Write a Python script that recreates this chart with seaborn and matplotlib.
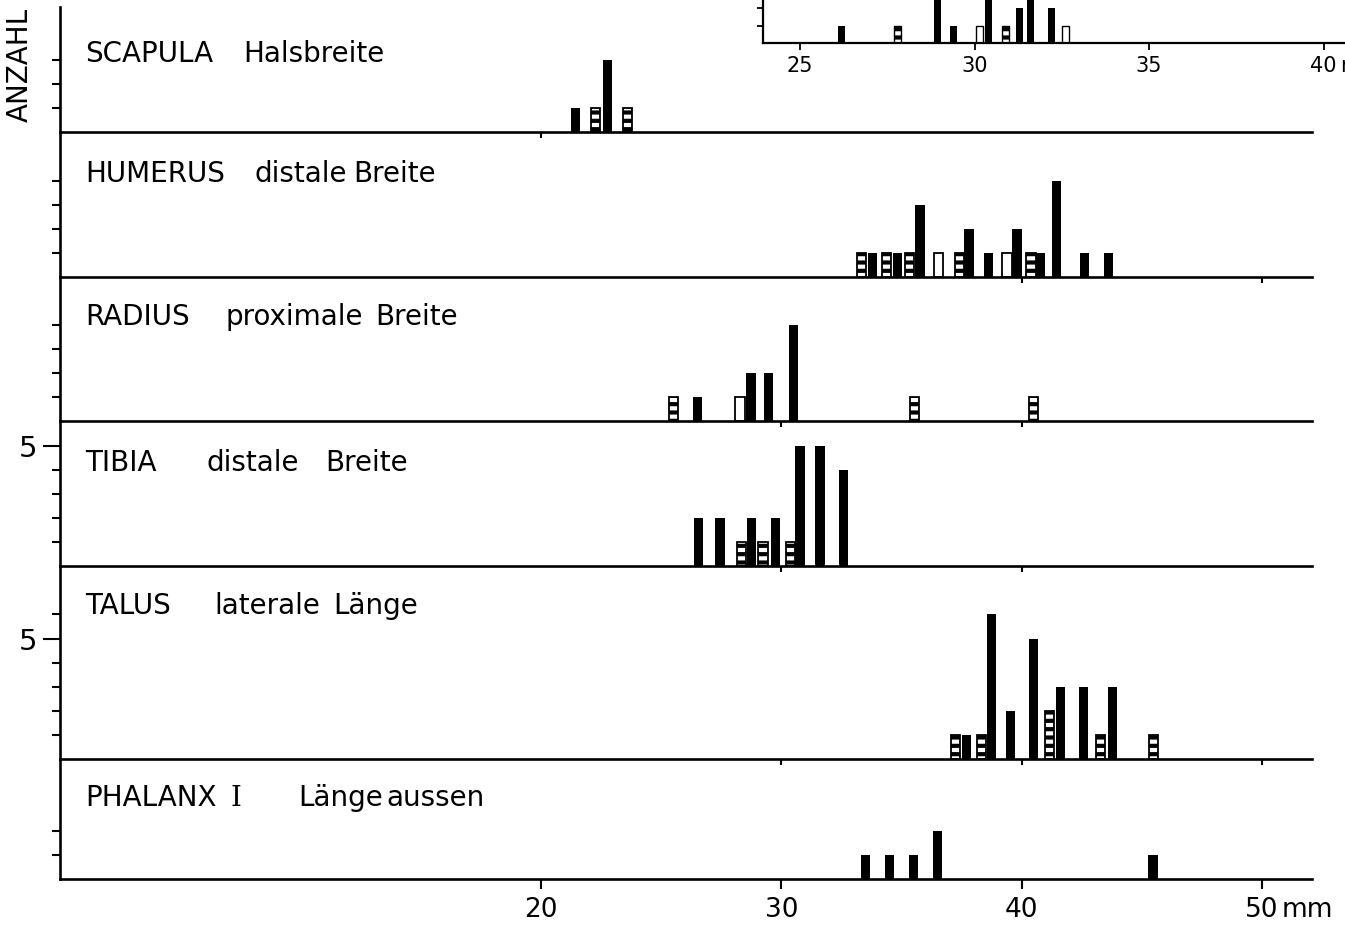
"""
Histogramme der Knochenmasse (Anzahl je mm) fuer sechs Skelettelemente,
mit kleinem Einsatzdiagramm oben rechts. Speichert out.png.
"""

import matplotlib

matplotlib.use("Agg")
import matplotlib.pyplot as plt
import seaborn as sns

# --- data -----------------------------------------------------------------
# bar kinds: S = voll schwarz, G = gestreift, O = offen
scapula_mm = [21.45, 22.25, 22.75, 23.6]
scapula_n = [1, 1, 3, 1]
scapula_kind = ["S", "G", "S", "G"]

humerus_mm = [33.32, 33.81, 34.36, 34.82, 35.35, 35.77, 36.55, 37.4, 37.81,
              38.64, 39.39, 39.81, 40.39, 40.77, 41.47, 42.6, 43.6]
humerus_n = [1, 1, 1, 1, 1, 3, 1, 1, 2, 1, 1, 2, 1, 1, 4, 1, 1]
humerus_kind = ["G", "S", "G", "S", "G", "S", "O", "G", "S",
                "S", "O", "S", "G", "S", "S", "S", "S"]

radius_mm = [25.53, 26.53, 28.28, 28.74, 29.47, 30.49, 35.56, 40.51]
radius_n = [1, 1, 1, 2, 2, 4, 1, 1]
radius_kind = ["G", "S", "O", "S", "S", "S", "G", "G"]

tibia_mm = [26.57, 27.45, 28.35, 28.77, 29.24, 29.77, 30.39, 30.78, 31.61, 32.6]
tibia_n = [2, 2, 1, 2, 1, 2, 1, 5, 5, 4]
tibia_kind = ["S", "S", "G", "S", "G", "S", "G", "S", "S", "S"]

talus_mm = [37.26, 37.72, 38.34, 38.76, 39.54, 40.51, 41.17, 41.63,
            42.57, 43.3, 43.8, 45.49]
talus_n = [1, 1, 1, 6, 2, 5, 2, 3, 3, 1, 3, 1]
talus_kind = ["G", "S", "G", "S", "S", "S", "G", "S", "S", "G", "S", "G"]

phalanx_mm = [33.5, 34.51, 35.49, 36.49, 45.47]
phalanx_n = [1, 1, 1, 2, 1]
phalanx_kind = ["S", "S", "S", "S", "S"]

inset_mm = [26.2, 27.8, 28.95, 29.4, 30.15, 30.4, 30.9, 31.3, 31.6, 32.2, 32.6]
inset_n = [1, 1, 3, 1, 1, 3, 1, 2, 3, 2, 1]
inset_kind = ["S", "G", "S", "S", "O", "S", "G", "S", "S", "S", "O"]

panel_words = [
    ["SCAPULA", "Halsbreite"],
    ["HUMERUS", "distale", "Breite"],
    ["RADIUS", "proximale", "Breite"],
    ["TIBIA", "distale", "Breite"],
    ["TALUS", "laterale", "Länge"],
    ["PHALANX", "I", "Länge", "aussen"],
]
panel_data = [
    (scapula_mm, scapula_n, scapula_kind),
    (humerus_mm, humerus_n, humerus_kind),
    (radius_mm, radius_n, radius_kind),
    (tibia_mm, tibia_n, tibia_kind),
    (talus_mm, talus_n, talus_kind),
    (phalanx_mm, phalanx_n, phalanx_kind),
]
panel_yticks = [[1, 2, 3], [1, 2, 3, 4], [1, 2, 3, 4], [1, 2, 3, 4, 5],
                [1, 2, 3, 4, 5, 6], [1, 2]]
panel_xticks = [[20], [40, 50], [30, 40], [30, 40], [30, 40, 50], [20, 30, 40, 50]]
bottom_labels = ["20", "30", "40", "50"]
inset_xticks = [25, 30, 35, 40]
inset_labels = ["25", "30", "35", "40"]
y_label = "ANZAHL"
unit_label = "mm"

# --- layout (pixels of the 1345 x 929 picture) ----------------------------
W, H = 1345, 929
MAIN_LEFT, MAIN_RIGHT = 60.4, 1312
MM_PX = 24.03                     # main x scale
UNIT_PX = 24.1                    # one count
panel_top = [8, 133, 278, 422, 567, 760]
panel_bottom = [133, 278, 422, 567, 760, 880]
label_base = [54, 49, 47, 49, 47, 46]          # text baseline below panel top
word_x = [[85, 243], [85, 254, 353], [85, 226, 375], [85, 207, 325],
          [85, 214, 333], [85, 230, 298, 386]]

INSET_LEFT, INSET_BOTTOM, INSET_TOP, INSET_RIGHT = 763, 44, -10, 1376
INSET_MM_PX, INSET_25_PX = 34.9, 800
INSET_UNIT_PX = 17.5

BAR_W = 0.38
INSET_BAR_W = 0.2
FS = 20


def px_rect(left, top, right, bottom):
    return [left / W, 1 - bottom / H, (right - left) / W, (bottom - top) / H]


def draw_bars(ax, xs, ns, kinds, width, lw):
    """Draw the three bar kinds with seaborn on a numeric x axis."""
    styles = {
        "S": dict(color="black", edgecolor="black", linewidth=0),
        "G": dict(color="white", edgecolor="black", linewidth=lw, hatch="--"),
        "O": dict(color="white", edgecolor="black", linewidth=lw),
    }
    for kind, style in styles.items():
        x = [v for v, k in zip(xs, kinds) if k == kind]
        h = [v for v, k in zip(ns, kinds) if k == kind]
        if not x:
            continue
        xs_sorted = sorted(x)
        gaps = [b - a for a, b in zip(xs_sorted, xs_sorted[1:])]
        native = min(gaps) if gaps else 1.0
        sns.barplot(x=x, y=h, native_scale=True, width=width / native,
                    errorbar=None, saturation=1, ax=ax, **style)


sns.set_theme(style="ticks", rc={
    "axes.edgecolor": "black", "xtick.color": "black", "ytick.color": "black",
    "text.color": "black", "axes.labelcolor": "black",
    "hatch.linewidth": 3.0, "hatch.color": "black",
})
plt.rcParams["font.family"] = ["DejaVu Sans"]

fig = plt.figure(figsize=(W / 100, H / 100), dpi=100)
fig.patch.set_facecolor("white")

x_max = (MAIN_RIGHT - MAIN_LEFT) / MM_PX
n_panels = len(panel_data)
for i, (xs, ns, kinds) in enumerate(panel_data):
    top, bottom = panel_top[i], panel_bottom[i]
    ax = fig.add_axes(px_rect(MAIN_LEFT, top, MAIN_RIGHT, bottom))
    ax.set_facecolor("none")
    draw_bars(ax, xs, ns, kinds, BAR_W, 1.3)
    ax.set_xlim(0, x_max)
    ax.set_ylim(0, (bottom - top) / UNIT_PX)
    ax.set_xlabel("")
    ax.set_ylabel("")
    sns.despine(ax=ax, top=True, right=True)
    for side in ("left", "bottom"):
        ax.spines[side].set_linewidth(1.9)

    # y ticks: long tick with label at 5, short ticks elsewhere
    major = [v for v in panel_yticks[i] if v == 5]
    minor = [v for v in panel_yticks[i] if v != 5]
    ax.set_yticks(major, labels=["5"] * len(major))
    ax.set_yticks(minor, minor=True)
    ax.tick_params(axis="y", which="major", length=12, width=1.5,
                   labelsize=21, pad=5)
    ax.tick_params(axis="y", which="minor", length=6, width=1.5)

    last = i == n_panels - 1
    if last:
        ax.set_xticks(panel_xticks[i], labels=bottom_labels)
        ax.set_xticks([51.9], labels=[unit_label], minor=True)
        ax.tick_params(axis="x", which="major", length=7, width=1.5,
                       labelsize=19, pad=5)
        ax.tick_params(axis="x", which="minor", length=7, width=0,
                       labelsize=19, pad=5)
    else:
        ax.set_xticks(panel_xticks[i], labels=[""] * len(panel_xticks[i]))
        ax.tick_params(axis="x", which="major", length=4, width=1.5)

    for word, wx in zip(panel_words[i], word_x[i]):
        family = ["DejaVu Serif"] if word == "I" else ["DejaVu Sans"]
        ax.annotate(word, xy=(0, 1), xycoords="axes fraction",
                    xytext=(wx - MAIN_LEFT, -label_base[i]),
                    textcoords="offset pixels", fontsize=FS,
                    family=family, ha="left", va="baseline")

fig.text(20 / W, 1 - 65 / H, y_label, rotation=90, fontsize=FS,
         ha="center", va="center")

# --- inset (cut off by the picture edge) ---------------------------------
axi = fig.add_axes(px_rect(INSET_LEFT, INSET_TOP, INSET_RIGHT, INSET_BOTTOM))
axi.set_facecolor("none")
draw_bars(axi, inset_mm, inset_n, inset_kind, INSET_BAR_W, 1.0)
axi.set_xlim(25 + (INSET_LEFT - INSET_25_PX) / INSET_MM_PX,
             25 + (INSET_RIGHT - INSET_25_PX) / INSET_MM_PX)
axi.set_ylim(0, (INSET_BOTTOM - INSET_TOP) / INSET_UNIT_PX)
axi.set_xlabel("")
axi.set_ylabel("")
sns.despine(ax=axi, top=True, right=True)
for side in ("left", "bottom"):
    axi.spines[side].set_linewidth(1.6)
axi.set_xticks(inset_xticks, labels=inset_labels)
axi.set_xticks([41.05], labels=[unit_label], minor=True)
axi.set_yticks([1, 2], labels=["", ""])
axi.tick_params(axis="x", which="major", length=5, width=1.3, labelsize=15, pad=4)
axi.tick_params(axis="x", which="minor", length=5, width=0, labelsize=15, pad=4)
axi.tick_params(axis="y", which="major", length=4, width=1.3)

fig.savefig("out.png", dpi=100, facecolor="white")
